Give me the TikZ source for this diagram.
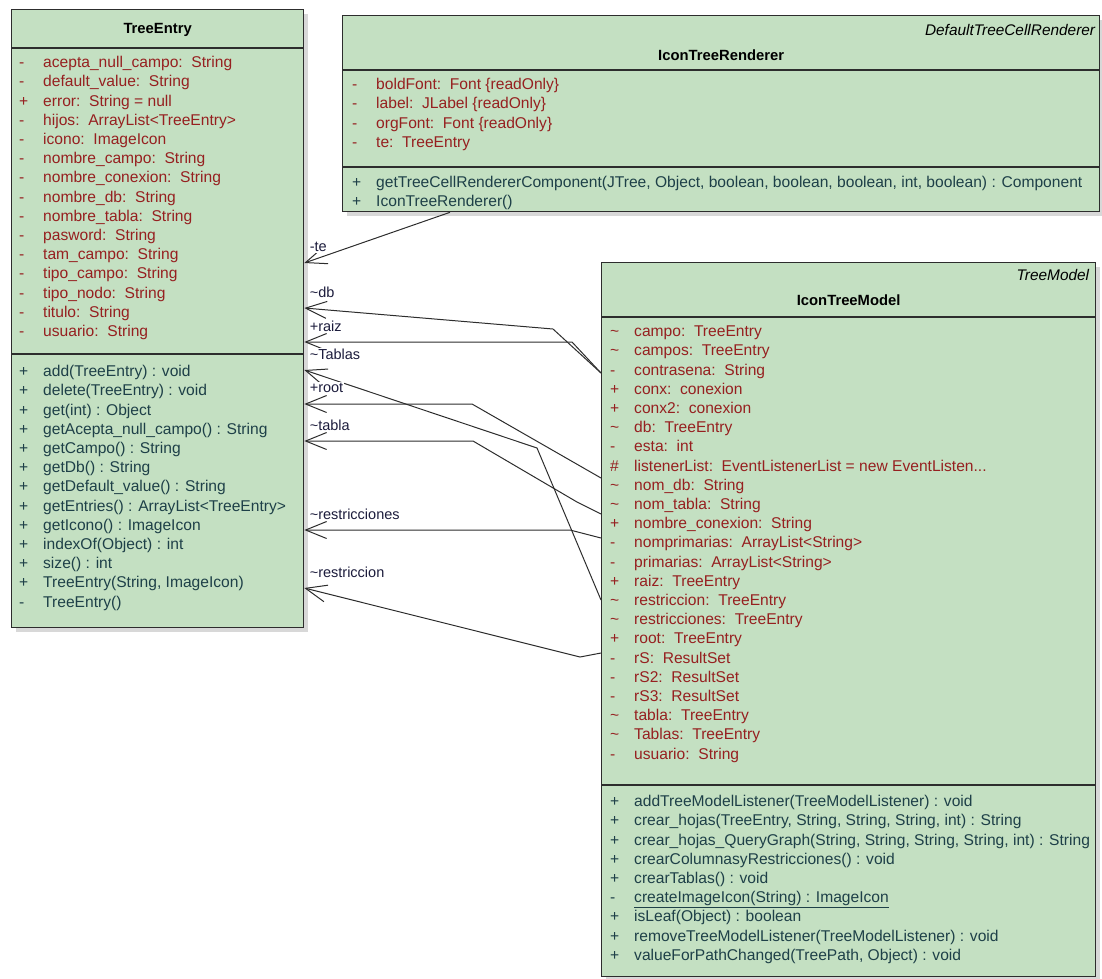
\documentclass[tikz,border=0pt]{standalone}
\usepackage{fontspec}
\setmainfont{Liberation Sans}
\usepackage{xcolor}
\usepackage{tikz}
\usetikzlibrary{arrows.meta,positioning,shadows}

\definecolor{umlfill}{RGB}{196,224,194}
\definecolor{attrred}{RGB}{150,32,32}
\definecolor{opteal}{RGB}{30,64,72}
\definecolor{rolenavy}{RGB}{28,28,60}
\definecolor{umlline}{RGB}{45,45,45}

\newcommand{\vis}[1]{\strut\makebox[24pt][l]{#1}}
\newcommand{\tld}{\textasciitilde}

\begin{document}
\begin{tikzpicture}[
    x=1pt, y=-1pt,
    font=\fontsize{15.6}{19.2}\selectfont,
    umlclass/.style={draw=umlline, line width=1.3pt, fill=umlfill, rectangle, anchor=north west, inner sep=0pt,
        drop shadow={shadow xshift=4pt, shadow yshift=-4pt, fill=black!30}},
    compart/.style={anchor=north west, align=left, inner sep=0pt},
    attrs/.style={compart, text=attrred},
    ops/.style={compart, text=opteal},
    title/.style={font=\fontsize{14.8}{19.2}\selectfont\bfseries, inner sep=0pt},
    stereo/.style={font=\fontsize{15.4}{19.2}\selectfont\itshape, inner sep=0pt, anchor=east},
    sep/.style={draw=umlline, line width=1.3pt},
    assoc/.style={draw=umlline, line width=1pt, -{Straight Barb[length=21pt, width=17pt, line width=1pt]}},
    role/.style={font=\fontsize{14.5}{17}\selectfont, text=rolenavy, fill=white, inner sep=1pt, anchor=west, xshift=4pt, yshift=16pt}
]
\useasboundingbox (0,0) rectangle (1102,978);

% class boxes
\node[umlclass, minimum width=292pt, minimum height=618pt] (treeentry) at (11,9) {};
\node[umlclass, minimum width=757pt, minimum height=196pt] (renderer) at (342,15) {};
\node[umlclass, minimum width=494pt, minimum height=714pt] (model) at (601,262) {};

% compartment lines
\draw[sep] ([yshift=-39pt]treeentry.north west) -- ([yshift=-39pt]treeentry.north east);
\draw[sep] ([yshift=-345pt]treeentry.north west) -- ([yshift=-345pt]treeentry.north east);
\draw[sep] ([yshift=-55pt]renderer.north west) -- ([yshift=-55pt]renderer.north east);
\draw[sep] ([yshift=-152pt]renderer.north west) -- ([yshift=-152pt]renderer.north east);
\draw[sep] ([yshift=-55pt]model.north west) -- ([yshift=-55pt]model.north east);
\draw[sep] ([yshift=-523pt]model.north west) -- ([yshift=-523pt]model.north east);

% TreeEntry
\node[title] (tetitle) at ([yshift=-21pt]treeentry.north) {TreeEntry};
\node[attrs] (teattrs) at ([xshift=8pt, yshift=-45pt]treeentry.north west) {%
\vis{-}acepta\_null\_campo:~~String\\
\vis{-}default\_value:~~String\\
\vis{+}error:~~String = null\\
\vis{-}hijos:~~ArrayList<TreeEntry>\\
\vis{-}icono:~~ImageIcon\\
\vis{-}nombre\_campo:~~String\\
\vis{-}nombre\_conexion:~~String\\
\vis{-}nombre\_db:~~String\\
\vis{-}nombre\_tabla:~~String\\
\vis{-}pasword:~~String\\
\vis{-}tam\_campo:~~String\\
\vis{-}tipo\_campo:~~String\\
\vis{-}tipo\_nodo:~~String\\
\vis{-}titulo:~~String\\
\vis{-}usuario:~~String};
\node[ops] (teops) at ([xshift=8pt, yshift=-354pt]treeentry.north west) {%
\vis{+}add(TreeEntry) : void\\
\vis{+}delete(TreeEntry) : void\\
\vis{+}get(int) : Object\\
\vis{+}getAcepta\_null\_campo() : String\\
\vis{+}getCampo() : String\\
\vis{+}getDb() : String\\
\vis{+}getDefault\_value() : String\\
\vis{+}getEntries() : ArrayList<TreeEntry>\\
\vis{+}getIcono() : ImageIcon\\
\vis{+}indexOf(Object) : int\\
\vis{+}size() : int\\
\vis{+}TreeEntry(String, ImageIcon)\\
\vis{-}TreeEntry()};

% IconTreeRenderer
\node[stereo] (rstereo) at ([xshift=-5pt, yshift=-15pt]renderer.north east) {DefaultTreeCellRenderer};
\node[title] (rtitle) at ([yshift=-40pt]renderer.north) {IconTreeRenderer};
\node[attrs] (rattrs) at ([xshift=10pt, yshift=-61pt]renderer.north west) {%
\vis{-}boldFont:~~Font \{readOnly\}\\
\vis{-}label:~~JLabel \{readOnly\}\\
\vis{-}orgFont:~~Font \{readOnly\}\\
\vis{-}te:~~TreeEntry};
\node[ops] (rops) at ([xshift=10pt, yshift=-159pt]renderer.north west) {%
\vis{+}getTreeCellRendererComponent(JTree, Object, boolean, boolean, boolean, int, boolean) : Component\\
\vis{+}IconTreeRenderer()};

% IconTreeModel
\node[stereo] (mstereo) at ([xshift=-7pt, yshift=-13pt]model.north east) {TreeModel};
\node[title] (mtitle) at ([yshift=-38pt]model.north) {IconTreeModel};
\node[attrs] (mattrs) at ([xshift=9pt, yshift=-61pt]model.north west) {%
\vis{\tld}campo:~~TreeEntry\\
\vis{\tld}campos:~~TreeEntry\\
\vis{-}contrasena:~~String\\
\vis{+}conx:~~conexion\\
\vis{+}conx2:~~conexion\\
\vis{\tld}db:~~TreeEntry\\
\vis{-}esta:~~int\\
\vis{\#}listenerList:~~EventListenerList = new EventListen...\\
\vis{\tld}nom\_db:~~String\\
\vis{\tld}nom\_tabla:~~String\\
\vis{+}nombre\_conexion:~~String\\
\vis{-}nomprimarias:~~ArrayList<String>\\
\vis{-}primarias:~~ArrayList<String>\\
\vis{+}raiz:~~TreeEntry\\
\vis{\tld}restriccion:~~TreeEntry\\
\vis{\tld}restricciones:~~TreeEntry\\
\vis{+}root:~~TreeEntry\\
\vis{-}rS:~~ResultSet\\
\vis{-}rS2:~~ResultSet\\
\vis{-}rS3:~~ResultSet\\
\vis{\tld}tabla:~~TreeEntry\\
\vis{\tld}Tablas:~~TreeEntry\\
\vis{-}usuario:~~String};
\node[ops] (mops) at ([xshift=9pt, yshift=-531pt]model.north west) {%
\vis{+}addTreeModelListener(TreeModelListener) : void\\
\vis{+}crear\_hojas(TreeEntry, String, String, String, int) : String\\
\vis{+}crear\_hojas\_QueryGraph(String, String, String, String, int) : String\\
\vis{+}crearColumnasyRestricciones() : void\\
\vis{+}crearTablas() : void\\
\vis{-}\underline{createImageIcon(String) : ImageIcon}\\
\vis{+}isLeaf(Object) : boolean\\
\vis{+}removeTreeModelListener(TreeModelListener) : void\\
\vis{+}valueForPathChanged(TreePath, Object) : void};

% associations
\draw[assoc] ([xshift=108pt]renderer.south west) -- ([yshift=-254pt]treeentry.north east) node[role] {-te};
\draw[assoc] ([yshift=-111pt]model.north west) -- (553,329) -- ([yshift=-299pt]treeentry.north east) node[role] {\tld db};
\draw[assoc] ([yshift=-111pt]model.north west) -- (572,342) -- ([yshift=-333pt]treeentry.north east) node[role] {+raiz};
\draw[assoc] ([yshift=-338pt]model.north west) -- (537,448) -- ([yshift=-361pt]treeentry.north east) node[role] {\tld Tablas};
\draw[assoc] ([yshift=-216pt]model.north west) -- (472,404) -- ([yshift=-395pt]treeentry.north east) node[role] {+root};
\draw[assoc] ([yshift=-252pt]model.north west) -- (577,502) -- (473,441) -- ([yshift=-432pt]treeentry.north east) node[role] {\tld tabla};
\draw[assoc] ([yshift=-276pt]model.north west) -- (570,530) -- ([yshift=-521pt]treeentry.north east) node[role] {\tld restricciones};
\draw[assoc] ([yshift=-391pt]model.north west) -- (580,657) -- ([yshift=-579pt]treeentry.north east) node[role] {\tld restriccion};
\end{tikzpicture}
\end{document}
